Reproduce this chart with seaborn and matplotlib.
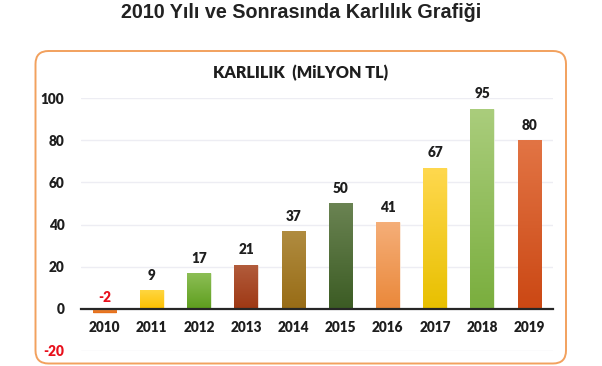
import numpy as np
import pandas as pd
import matplotlib
matplotlib.use("Agg")
import matplotlib.pyplot as plt
import seaborn as sns
from matplotlib.patches import FancyBboxPatch
from matplotlib.colors import LinearSegmentedColormap
from matplotlib.transforms import IdentityTransform

# ---- data ----
years = ["2010", "2011", "2012", "2013", "2014", "2015", "2016", "2017", "2018", "2019"]
values = [-2, 9, 17, 21, 37, 50, 41, 67, 95, 80]
yticks = [-20, 0, 20, 40, 60, 80, 100]
title = "2010 Yılı ve Sonrasında Karlılık Grafiği"
subtitle = "KARLILIK  (MiLYON TL)"

# gradient colours (top, bottom) per bar
top_colors = ["#F29448", "#FFD640", "#8CBE55", "#B25C3C", "#B08C40",
              "#6A8352", "#F5AE78", "#FFD84E", "#AACD7C", "#E27444"]
bottom_colors = ["#E56C16", "#FDC000", "#5E9E1E", "#9E3814", "#986C16",
                 "#3C5C24", "#EA883A", "#E8C000", "#7AAE3E", "#CB4814"]
mid_colors = ["#EC7E2C", "#FECB20", "#76AE3A", "#A84A28", "#A47C2A",
              "#52703A", "#F09C58", "#F4CC26", "#92BE5C", "#D65E2C"]

df = pd.DataFrame({"year": years, "value": values})

sns.set_theme(style="white")
plt.rcParams["font.family"] = ["Lato", "DejaVu Sans"]

fig = plt.figure(figsize=(6.02, 3.66), dpi=100)
fig.patch.set_facecolor("white")

# rounded frame
frame = FancyBboxPatch((35.5, 2.5), 530.5, 312.5,
                       boxstyle="round,pad=0,rounding_size=13",
                       transform=IdentityTransform(), facecolor="none",
                       edgecolor="#F2A15E", linewidth=1.4, zorder=-1)
fig.patches.append(frame)

ax = fig.add_axes([81 / 602, 1 - 351 / 366, (553 - 81) / 602, (351 - 98) / 366])
ax.set_facecolor("none")

sns.barplot(data=df, x="year", y="value", hue="year", palette=mid_colors,
            legend=False, width=0.5, ax=ax, saturation=1, zorder=2)

# gradient fill for each bar
for i, patch in enumerate(ax.patches):
    x0, y0 = patch.get_x(), patch.get_y()
    w, h = patch.get_width(), patch.get_height()
    cmap = LinearSegmentedColormap.from_list(f"g{i}", [bottom_colors[i], top_colors[i]])
    grad = np.linspace(0, 1, 64).reshape(-1, 1)
    ylo, yhi = min(y0, y0 + h), max(y0, y0 + h)
    im = ax.imshow(grad, cmap=cmap, aspect="auto", origin="lower",
                   extent=[x0, x0 + w, ylo, yhi], zorder=2.5, interpolation="bilinear")
    im.set_clip_path(patch)
    patch.set_edgecolor((1, 1, 1, 0.6))
    patch.set_linewidth(0.8)

ax.set_xlim(-0.5, 9.5)
ax.set_ylim(-20, 100)
ax.set_yticks(yticks)
ax.set_yticklabels([str(t) for t in yticks])
ax.set_xlabel("")
ax.set_ylabel("")

ax.yaxis.grid(True, color="#EDEDF3", linewidth=1.0, zorder=0)
ax.set_axisbelow(True)

for s in ["top", "right", "left"]:
    ax.spines[s].set_visible(False)
ax.spines["bottom"].set_position(("data", 0))
ax.spines["bottom"].set_color("#262626")
ax.spines["bottom"].set_linewidth(1.6)
ax.spines["bottom"].set_zorder(4)

ax.tick_params(axis="x", length=0, pad=9, labelsize=9.8, labelcolor="#1E1E1E")
ax.tick_params(axis="y", length=0, pad=12, labelsize=9.8, labelcolor="#1E1E1E")
for lbl in ax.get_xticklabels() + ax.get_yticklabels():
    lbl.set_fontweight("heavy")
for lbl, t in zip(ax.get_yticklabels(), yticks):
    if t < 0:
        lbl.set_color("#E8101C")

# value labels
for i, v in enumerate(values):
    ax.annotate(str(v), xy=(i, max(v, 0)), xytext=(0, 10.5 if v >= 0 else 8.5),
                textcoords="offset points",
                ha="center", va="center", fontsize=9.8, fontweight="heavy",
                color="#E8101C" if v < 0 else "#1E1E1E", annotation_clip=False, zorder=5)

fig.text(0.5, 1 - 12 / 366, title, ha="center", va="center",
         fontsize=14.2, fontweight="bold", color="#222222",
         family=["Liberation Sans", "DejaVu Sans"])
fig.text(0.5, 1 - 73 / 366, subtitle, ha="center", va="center",
         fontsize=11.6, fontweight="heavy", color="#1E1E1E")

fig.savefig("out.png", dpi=100)
